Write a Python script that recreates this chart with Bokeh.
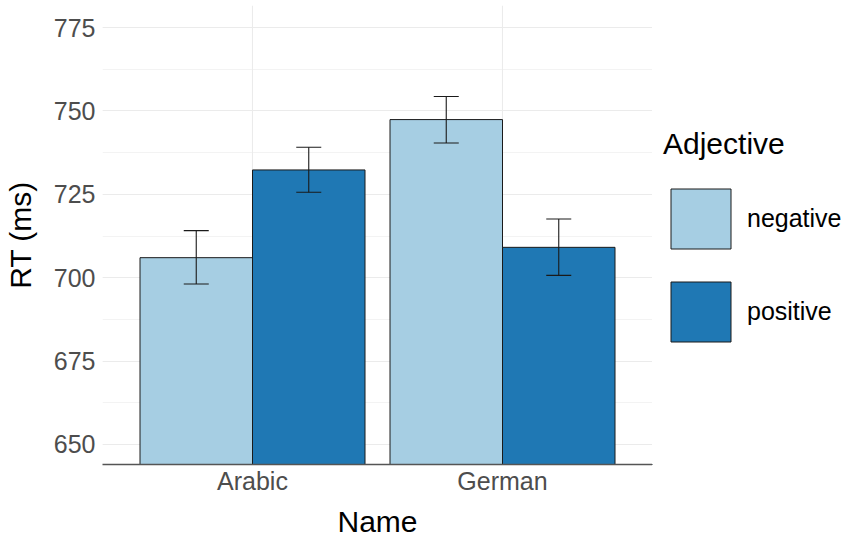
from bokeh.plotting import figure
from bokeh.layouts import row
from bokeh.models import (ColumnDataSource, FactorRange, Range1d, Whisker, TeeHead,
                          Legend, LegendItem, SingleIntervalTicker)
from bokeh.transform import dodge
from bokeh.embed import file_html
from bokeh.resources import INLINE

# ---- data ----
names = ["Arabic", "German"]
negative = [706.0, 747.4]
positive = [732.3, 709.1]
neg_lower = [698.1, 740.4]
neg_upper = [714.1, 754.3]
pos_lower = [725.6, 700.7]
pos_upper = [739.1, 717.6]
y_ticks_interval = 25
x_title = "Name"
y_title = "RT (ms)"
legend_title = "Adjective"
legend_labels = ["negative", "positive"]
colors = ["#a6cee3", "#1f78b4"]

FONT = "Liberation Sans"
EDGE = "#1a1a1a"

src = ColumnDataSource(dict(name=names, negative=negative, positive=positive,
                            neg_lower=neg_lower, neg_upper=neg_upper,
                            pos_lower=pos_lower, pos_upper=pos_upper,
                            base=[0, 0]))

p = figure(width=652, height=540, output_backend="svg", toolbar_location=None,
           x_range=FactorRange(factors=names, range_padding=0.1),
           y_range=Range1d(644.0, 781.6),
           min_border_left=102, min_border_right=0, min_border_top=5, min_border_bottom=76)
p.outline_line_color = None
p.background_fill_color = "white"

r_neg = p.vbar(x=dodge("name", -0.225, range=p.x_range), top="negative", bottom="base", width=0.45,
               source=src, fill_color=colors[0], line_color=EDGE, line_width=1)
r_pos = p.vbar(x=dodge("name", 0.225, range=p.x_range), top="positive", bottom="base", width=0.45,
               source=src, fill_color=colors[1], line_color=EDGE, line_width=1)

for off, lo, hi in [(-0.225, "neg_lower", "neg_upper"), (0.225, "pos_lower", "pos_upper")]:
    w = Whisker(base=dodge("name", off, range=p.x_range), lower=lo, upper=hi, source=src,
                line_color=EDGE, line_width=1.1, level="overlay",
                upper_head=TeeHead(size=25, line_color=EDGE, line_width=1.1),
                lower_head=TeeHead(size=25, line_color=EDGE, line_width=1.1))
    p.add_layout(w)

# axes
p.yaxis.ticker = SingleIntervalTicker(interval=y_ticks_interval, num_minor_ticks=2)
for ax in (p.xaxis[0], p.yaxis[0]):
    ax.major_tick_line_color = None
    ax.minor_tick_line_color = None
    ax.major_tick_out = 0
    ax.minor_tick_out = 0
    ax.major_tick_in = 0
    ax.minor_tick_in = 0
    ax.major_label_text_font = FONT
    ax.major_label_text_font_size = "25px"
    ax.major_label_text_color = "#4d4d4d"
    ax.axis_label_text_font = FONT
    ax.axis_label_text_font_size = "30px"
    ax.axis_label_text_font_style = "normal"
    ax.axis_label_text_color = "black"
p.yaxis.axis_line_color = None
p.yaxis.major_label_standoff = 7
p.yaxis.axis_label_standoff = 14
p.yaxis.axis_label = y_title
p.xaxis.axis_line_color = "#555555"
p.xaxis.axis_line_width = 1.5
p.xaxis.major_label_standoff = 2
p.xaxis.axis_label_standoff = 7
p.xaxis.axis_label = x_title

# grid
p.ygrid.grid_line_color = "#ebebeb"
p.ygrid.grid_line_width = 1.1
p.ygrid.minor_grid_line_color = "#ebebeb"
p.ygrid.minor_grid_line_width = 0.6
p.xgrid.grid_line_color = "#ebebeb"
p.xgrid.grid_line_width = 1.1

# ---- legend panel (separate figure on the right) ----
lg = figure(width=199, height=540, output_backend="svg", toolbar_location=None,
            x_range=Range1d(0, 1), y_range=Range1d(0, 1),
            min_border_left=0, min_border_right=0, min_border_top=0, min_border_bottom=0)
lg.axis.visible = False
lg.grid.visible = False
lg.outline_line_color = None
# legend key glyphs (placed outside the visible range; only their swatches show)
k_neg = lg.vbar(x=[-5], top=[-5], bottom=[-6], width=0.1, fill_color=colors[0], line_color=EDGE, line_width=1)
k_pos = lg.vbar(x=[-5], top=[-5], bottom=[-6], width=0.1, fill_color=colors[1], line_color=EDGE, line_width=1)

legend = Legend(items=[LegendItem(label=legend_labels[0], renderers=[k_neg]),
                       LegendItem(label=legend_labels[1], renderers=[k_pos])],
                location=(11, 115), title=legend_title,
                title_text_font=FONT, title_text_font_size="30px", title_text_font_style="normal",
                title_text_color="black", title_standoff=20,
                label_text_font=FONT, label_text_font_size="25px", label_text_color="black",
                glyph_width=75, glyph_height=75, label_height=75, spacing=18,
                label_standoff=9, padding=0, margin=0,
                border_line_color=None, background_fill_alpha=0)
lg.add_layout(legend, "center")

layout = row(p, lg)
open("out.html", "w").write(file_html(layout, INLINE))
